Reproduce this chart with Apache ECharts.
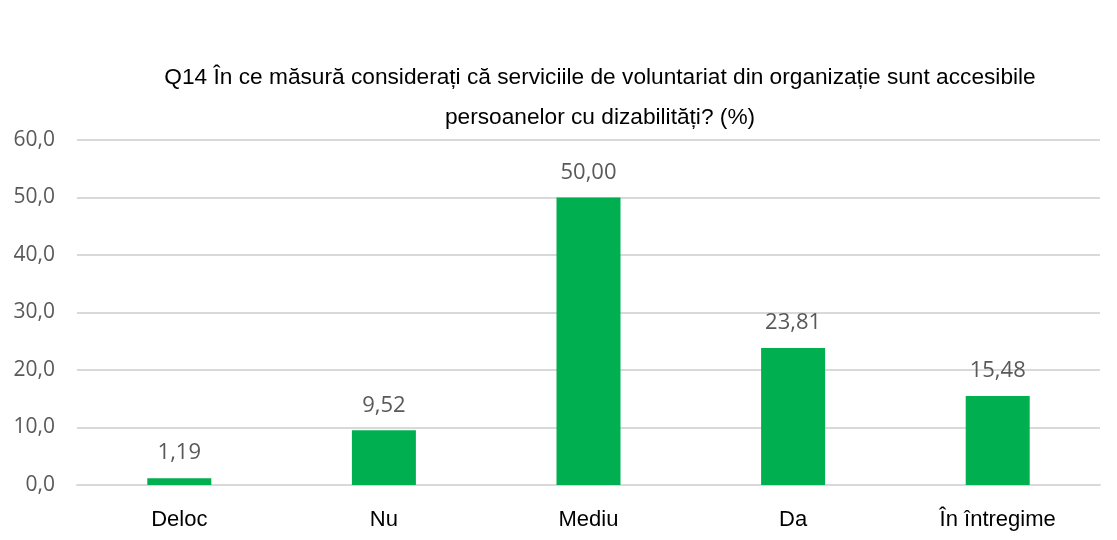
<!DOCTYPE html>
<html>
<head>
	<meta charset="utf-8">
	<title>Q14</title>
	<script src="https://cdn.jsdelivr.net/npm/echarts@6/dist/echarts.min.js"></script>
</head>
<body style="margin:0;background:#fff;">
	<div id="chart" style="width:1117px;height:540px;"></div>
	<script type="text/javascript">
		var categories = ['Deloc', 'Nu', 'Mediu', 'Da', 'În întregime'];
		var values = [1.19, 9.52, 50.00, 23.81, 15.48];
		var titleText = 'Q14 În ce măsură considerați că serviciile de voluntariat din organizație sunt accesibile\npersoanelor cu dizabilități? (%)';

		var myChart = echarts.init(document.getElementById('chart'));
		var option = {
			backgroundColor: '#ffffff',
			animation: false,
			title: {
				text: titleText,
				left: 595,
				textAlign: 'center',
				top: 53,
				textStyle: {
					fontFamily: 'Liberation Sans',
					fontSize: 22.7,
					fontWeight: 'normal',
					color: '#000000',
					lineHeight: 40
				}
			},
			grid: { left: 77, right: 17, top: 140, bottom: 55 },
			xAxis: {
				type: 'category',
				data: categories,
				axisLine: { lineStyle: { color: '#d9d9d9', width: 2 } },
				axisTick: { show: false },
				axisLabel: {
					margin: 24,
					fontFamily: 'Liberation Sans',
					fontSize: 22,
					color: '#000000'
				}
			},
			yAxis: {
				type: 'value',
				min: 0,
				max: 60,
				interval: 10,
				axisLine: { show: false },
				axisTick: { show: false },
				splitLine: { lineStyle: { color: '#d9d9d9', width: 2 } },
				axisLabel: {
					margin: 22,
					fontFamily: 'Open Sans',
					fontSize: 21,
					color: '#595959',
					formatter: function (v) { return v.toFixed(1).replace('.', ','); }
				}
			},
			series: [{
				type: 'bar',
				data: values,
				barWidth: 64,
				itemStyle: { color: '#00b050' },
				label: {
					show: true,
					position: 'top',
					distance: 14,
					fontFamily: 'Open Sans',
					fontSize: 22,
					color: '#595959',
					formatter: function (p) { return p.value.toFixed(2).replace('.', ','); }
				}
			}]
		};
		myChart.setOption(option);
	</script>
</body>
</html>
